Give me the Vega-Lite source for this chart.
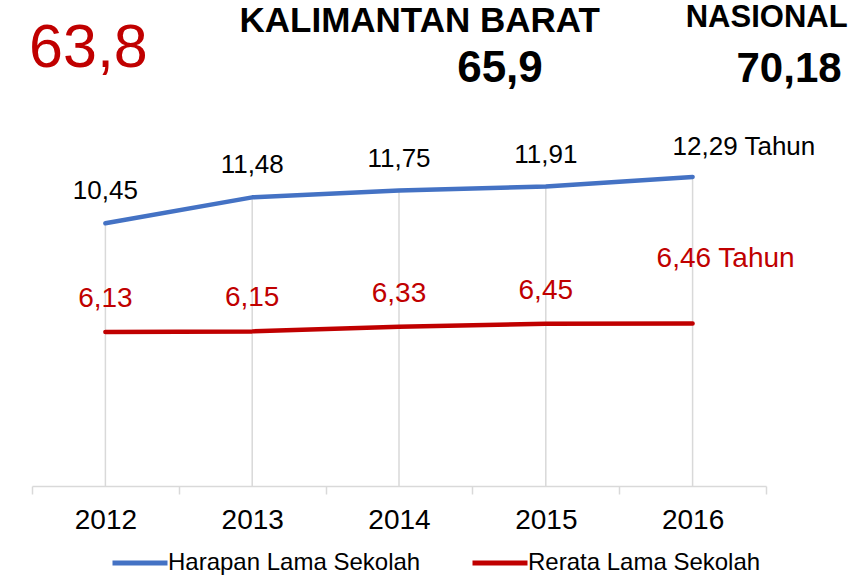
{
  "$schema": "https://vega.github.io/schema/vega-lite/v6.json",
  "autosize": "none",
  "width": 734,
  "height": 486,
  "padding": {"left": 32, "top": 0, "right": 88, "bottom": 89},
  "background": "white",
  "config": {"view": {"stroke": null}, "font": "Liberation Sans"},
  "data": {"values": [
    {"year": "2012", "series": "Harapan Lama Sekolah", "value": 10.45, "label": "10,45"},
    {"year": "2013", "series": "Harapan Lama Sekolah", "value": 11.48, "label": "11,48"},
    {"year": "2014", "series": "Harapan Lama Sekolah", "value": 11.75, "label": "11,75"},
    {"year": "2015", "series": "Harapan Lama Sekolah", "value": 11.91, "label": "11,91"},
    {"year": "2016", "series": "Harapan Lama Sekolah", "value": 12.29, "label": "12,29 Tahun"},
    {"year": "2012", "series": "Rerata Lama Sekolah", "value": 6.13, "label": "6,13"},
    {"year": "2013", "series": "Rerata Lama Sekolah", "value": 6.15, "label": "6,15"},
    {"year": "2014", "series": "Rerata Lama Sekolah", "value": 6.33, "label": "6,33"},
    {"year": "2015", "series": "Rerata Lama Sekolah", "value": 6.45, "label": "6,45"},
    {"year": "2016", "series": "Rerata Lama Sekolah", "value": 6.46, "label": "6,46 Tahun"}
  ]},
  "layer": [
    {
      "transform": [{"filter": "datum.series === 'Harapan Lama Sekolah'"}],
      "mark": {"type": "rule", "color": "#D9D9D9", "strokeWidth": 1.5},
      "encoding": {
        "x": {
          "field": "year", "type": "ordinal",
          "scale": {"type": "band", "paddingInner": 0, "paddingOuter": 0},
          "axis": {
            "title": null, "labelAngle": 0, "tickBand": "extent", "tickSize": 8,
            "tickColor": "#D9D9D9", "tickWidth": 1.5, "domainColor": "#D9D9D9", "domainWidth": 1.5,
            "labelFontSize": 28, "labelFont": "Liberation Sans", "labelColor": "#000000",
            "labelPadding": 12, "grid": false
          }
        },
        "y": {
          "field": "value", "type": "quantitative",
          "scale": {"domain": [0, 19.33], "nice": false, "zero": true},
          "axis": null
        },
        "y2": {"datum": 0}
      }
    },
    {
      "mark": {"type": "line", "strokeWidth": 4.5, "strokeCap": "round", "strokeJoin": "round"},
      "encoding": {
        "x": {"field": "year", "type": "ordinal"},
        "y": {"field": "value", "type": "quantitative"},
        "color": {
          "field": "series", "type": "nominal",
          "scale": {"domain": ["Harapan Lama Sekolah", "Rerata Lama Sekolah"], "range": ["#4472C4", "#C00000"]},
          "legend": {
            "title": null, "orient": "none", "legendX": 78, "legendY": 533,
            "direction": "horizontal", "symbolType": "stroke", "symbolSize": 3025,
            "symbolStrokeWidth": 5, "labelFontSize": 24, "labelFont": "Liberation Sans",
            "labelColor": "#000000", "labelOffset": -2, "columnPadding": 41, "padding": 0,
            "labelLimit": 400
          }
        }
      }
    },
    {
      "transform": [{"filter": "datum.series === 'Harapan Lama Sekolah' && datum.year !== '2016'"}],
      "mark": {"type": "text", "align": "center", "baseline": "alphabetic", "dy": -24, "fontSize": 26, "color": "#000000"},
      "encoding": {"x": {"field": "year", "type": "ordinal"}, "y": {"field": "value", "type": "quantitative"}, "text": {"field": "label"}}
    },
    {
      "transform": [{"filter": "datum.series === 'Rerata Lama Sekolah' && datum.year !== '2016'"}],
      "mark": {"type": "text", "align": "center", "baseline": "alphabetic", "dy": -25, "fontSize": 28, "color": "#C00000"},
      "encoding": {"x": {"field": "year", "type": "ordinal"}, "y": {"field": "value", "type": "quantitative"}, "text": {"field": "label"}}
    },
    {
      "transform": [{"filter": "datum.series === 'Harapan Lama Sekolah' && datum.year === '2016'"}],
      "mark": {"type": "text", "align": "left", "baseline": "alphabetic", "dx": -20, "dy": -22, "fontSize": 26, "color": "#000000"},
      "encoding": {"x": {"field": "year", "type": "ordinal"}, "y": {"field": "value", "type": "quantitative"}, "text": {"field": "label"}}
    },
    {
      "transform": [{"filter": "datum.series === 'Rerata Lama Sekolah' && datum.year === '2016'"}],
      "mark": {"type": "text", "align": "left", "baseline": "alphabetic", "dx": -36, "dy": -57, "fontSize": 28, "color": "#C00000"},
      "encoding": {"x": {"field": "year", "type": "ordinal"}, "y": {"field": "value", "type": "quantitative"}, "text": {"field": "label"}}
    },
    {
      "data": {"values": [{"headline": "63,8"}]},
      "mark": {"type": "text", "align": "center", "baseline": "alphabetic", "dx": -17, "fontSize": 61, "color": "#C00000"},
      "encoding": {"x": {"datum": "2012"}, "y": {"datum": 16.66}, "text": {"field": "headline", "type": "nominal"}}
    },
    {
      "data": {"values": [{"headline": "KALIMANTAN BARAT"}]},
      "mark": {"type": "text", "align": "right", "baseline": "alphabetic", "dx": 54, "fontSize": 35, "fontWeight": "bold", "color": "#000000"},
      "encoding": {"x": {"datum": "2015"}, "y": {"datum": 18.06}, "text": {"field": "headline", "type": "nominal"}}
    },
    {
      "data": {"values": [{"headline": "65,9"}]},
      "mark": {"type": "text", "align": "right", "baseline": "alphabetic", "dx": -3, "fontSize": 44, "fontWeight": "bold", "color": "#000000"},
      "encoding": {"x": {"datum": "2015"}, "y": {"datum": 16.07}, "text": {"field": "headline", "type": "nominal"}}
    },
    {
      "data": {"values": [{"headline": "NASIONAL"}]},
      "mark": {"type": "text", "align": "right", "baseline": "alphabetic", "dx": 155, "fontSize": 31, "fontWeight": "bold", "color": "#000000"},
      "encoding": {"x": {"datum": "2016"}, "y": {"datum": 18.26}, "text": {"field": "headline", "type": "nominal"}}
    },
    {
      "data": {"values": [{"headline": "70,18"}]},
      "mark": {"type": "text", "align": "right", "baseline": "alphabetic", "dx": 149, "fontSize": 42, "fontWeight": "bold", "color": "#000000"},
      "encoding": {"x": {"datum": "2016"}, "y": {"datum": 16.07}, "text": {"field": "headline", "type": "nominal"}}
    }
  ]
}
